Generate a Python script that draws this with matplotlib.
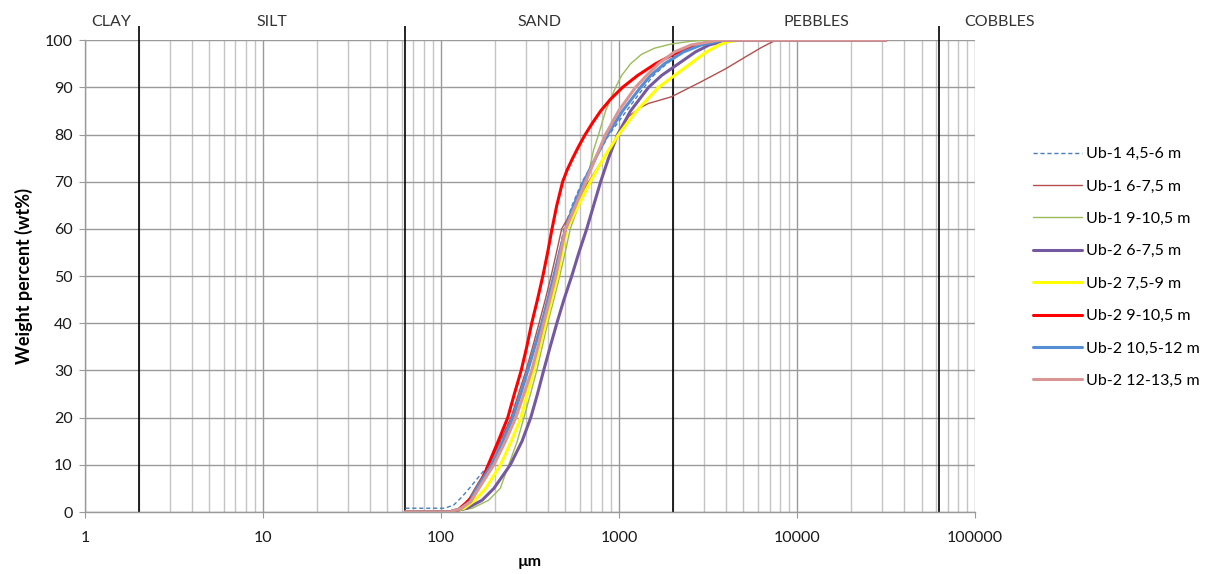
import numpy as np
import matplotlib
matplotlib.use("Agg")
import matplotlib.pyplot as plt
from matplotlib.ticker import LogLocator, FixedLocator, FuncFormatter, NullFormatter

plt.rcParams["font.family"] = ["Lato", "DejaVu Sans"]

# ── data (grain size in µm, cumulative weight percent) ──────────────────────
ub1_45_6_x = [63, 105, 118, 131, 144, 185, 215, 248, 278, 305, 335, 365, 397, 430, 460,
              490, 545, 620, 740, 880, 1100, 1380, 1560, 1850, 2300, 2900, 3800, 31500]
ub1_45_6_y = [0.8, 0.8, 1.5, 3.2, 5, 10, 15, 20, 25, 30, 35, 40, 45, 50, 55,
              60, 65, 70, 75, 80, 85, 90, 92.5, 95, 97.5, 99, 100, 100]

ub1_6_75_x = [63, 110, 128, 142, 155, 186, 215, 247, 272, 300, 327, 355, 385, 415, 445,
              476, 565, 675, 819, 994, 1130, 1286, 1464, 1665, 1968, 2358, 2862, 3951,
              5314, 6204, 6879, 7628, 31500]
ub1_6_75_y = [0, 0, 0.8, 2.5, 5, 10, 15, 20, 25, 30, 35, 40, 45, 50, 55,
              60, 65, 70, 75, 80, 83.8, 85.5, 86.6, 87.2, 88, 89.5, 91.1, 93.9,
              96.8, 98.3, 99.2, 100, 100]

ub1_9_105_x = [63, 112, 150, 185, 215, 240, 268, 292, 318, 345, 370, 397, 430, 464, 498,
               532, 593, 658, 719, 767, 840, 956, 1033, 1160, 1337, 1581, 1968, 2451, 2974, 31500]
ub1_9_105_y = [0, 0, 0.8, 2.5, 5, 10, 15, 20, 25, 30, 35, 40, 45, 50, 55,
               60, 65, 70, 76.7, 80, 85, 90, 92.5, 95, 97, 98.3, 99.2, 99.7, 100, 100]

ub2_6_75_x = [63, 112, 140, 170, 198, 245, 285, 319, 348, 377, 410, 447, 490, 542, 595,
              658, 720, 788, 873, 981, 1160, 1464, 1730, 2154, 2683, 3214, 4107, 31500]
ub2_6_75_y = [0, 0, 0.8, 2.5, 5, 10, 15, 20, 25, 30, 35, 40, 45, 50, 55,
              60, 65, 70, 75, 80, 85, 90, 92.5, 95, 97.5, 99, 100, 100]

ub2_75_9_x = [63, 112, 135, 155, 178, 216, 248, 281, 305, 332, 358, 387, 418, 452, 478,
              508, 592, 690, 819, 994, 1253, 1665, 2046, 2515, 3092, 3656, 4107, 4795, 31500]
ub2_75_9_y = [0, 0, 0.8, 2.5, 5, 10, 15, 20, 25, 30, 35, 40, 45, 50, 55,
              60, 65, 70, 75, 80, 85, 90, 92.5, 95, 97.5, 99, 99.7, 100, 100]

ub2_9_105_x = [63, 110, 125, 137, 153, 170, 186, 211, 237, 258, 282, 303, 323, 348, 373,
               397, 420, 447, 482, 511, 549, 593, 645, 710, 788, 896, 1046, 1269, 1601,
               2020, 2515, 3172, 3849, 31500]
ub2_9_105_y = [0, 0, 0.5, 1.8, 3.6, 6.8, 10.4, 15.3, 20, 25, 30, 35, 40, 45, 50,
               55, 60, 65, 70, 72.5, 75, 77.5, 80, 82.5, 85, 87.5, 90, 92.5, 95,
               97, 98.5, 99.5, 100, 100]

ub2_105_12_x = [63, 112, 130, 145, 159, 192, 222, 253, 280, 307, 336, 368, 398, 430, 463,
                500, 556, 633, 738, 862, 1046, 1320, 1502, 1798, 2298, 2899, 3849, 31500]
ub2_105_12_y = [0, 0, 0.8, 2.2, 5, 10, 15, 20, 25, 30, 35, 40, 45, 50, 55,
                60, 65, 70, 75, 80, 85, 90, 92.5, 95, 97.5, 99, 100, 100]

ub2_12_135_x = [63, 112, 130, 147, 163, 198, 230, 263, 292, 323, 350, 377, 408, 441, 470,
                501, 571, 649, 738, 840, 994, 1237, 1426, 1665, 2046, 2548, 3609, 31500]
ub2_12_135_y = [0, 0, 0.8, 2.2, 5, 10, 15, 20, 25, 30, 35, 40, 45, 50, 55,
                60, 65, 70, 75, 80, 85, 90, 92.5, 95, 97.5, 99, 100, 100]

series = [
    ("Ub-1 4,5-6 m", ub1_45_6_x, ub1_45_6_y, "#4A7EBB", 1.0, (0, (3, 2))),
    ("Ub-1 6-7,5 m", ub1_6_75_x, ub1_6_75_y, "#B3504D", 1.0, "-"),
    ("Ub-1 9-10,5 m", ub1_9_105_x, ub1_9_105_y, "#9BBB59", 1.0, "-"),
    ("Ub-2 6-7,5 m", ub2_6_75_x, ub2_6_75_y, "#7459A0", 2.2, "-"),
    ("Ub-2 7,5-9 m", ub2_75_9_x, ub2_75_9_y, "#FFFF00", 2.2, "-"),
    ("Ub-2 9-10,5 m", ub2_9_105_x, ub2_9_105_y, "#FF0000", 2.2, "-"),
    ("Ub-2 10,5-12 m", ub2_105_12_x, ub2_105_12_y, "#558ED5", 2.2, "-"),
    ("Ub-2 12-13,5 m", ub2_12_135_x, ub2_12_135_y, "#D99694", 2.2, "-"),
]

zone_limits = [2, 63, 2000, 63000]
zone_names = ["CLAY", "SILT", "SAND", "PEBBLES", "COBBLES"]
zone_label_x = [1.41, 11.2, 355, 12800, 137000]

# ── figure ──────────────────────────────────────────────────────────────────
fig = plt.figure(figsize=(12.11, 5.74), dpi=100)
ax = fig.add_axes([0.0702, 0.108, 0.735, 0.822])

for label, xs, ys, col, lw, ls in series:
    ax.plot(xs, ys, color=col, lw=lw, ls=ls, label=label,
            solid_joinstyle="round", solid_capstyle="round")

ax.set_xscale("log")
ax.set_xlim(1, 100000)
ax.set_ylim(0, 100)

ax.xaxis.set_major_locator(LogLocator(base=10, numticks=10))
ax.xaxis.set_minor_locator(LogLocator(base=10, subs=np.arange(2, 10), numticks=20))
ax.xaxis.set_major_formatter(FuncFormatter(lambda v, p: f"{int(round(v))}"))
ax.xaxis.set_minor_formatter(NullFormatter())
ax.yaxis.set_major_locator(FixedLocator(np.arange(0, 101, 10)))

ax.grid(True, which="major", color="#9a9a9a", lw=1.0)
ax.grid(True, which="minor", axis="x", color="#c4c4c4", lw=1.0)
ax.set_axisbelow(True)

for s in ["top", "right"]:
    ax.spines[s].set_visible(False)
for s in ["left", "bottom"]:
    ax.spines[s].set_color("#9a9a9a")
    ax.spines[s].set_linewidth(1.0)

ax.tick_params(axis="x", which="major", length=4, color="#9a9a9a", pad=10,
               labelsize=11.5, labelcolor="#1a1a1a")
ax.tick_params(axis="x", which="minor", length=0)
ax.tick_params(axis="y", length=4, color="#9a9a9a", pad=5,
               labelsize=11.5, labelcolor="#1a1a1a")

# zone boundaries
ax.vlines(zone_limits, 0, 103, colors="black", lw=1.2, clip_on=False, zorder=1.5)
for name, xv in zip(zone_names, zone_label_x):
    ax.text(xv, 103.8, name, ha="center", va="center", fontsize=11.5,
            color="#333333", clip_on=False)

ax.set_xlabel("µm", fontsize=11.5, fontweight="bold", labelpad=7)
ax.set_ylabel("Weight percent (wt%)", fontsize=13, fontweight="bold", labelpad=8)

fig.legend(loc="upper left", bbox_to_anchor=(0.848, 0.755), frameon=False,
           fontsize=11.5, handlelength=3.05, handletextpad=0.25,
           labelspacing=1.14, borderaxespad=0)

fig.savefig("out.png", dpi=100)
